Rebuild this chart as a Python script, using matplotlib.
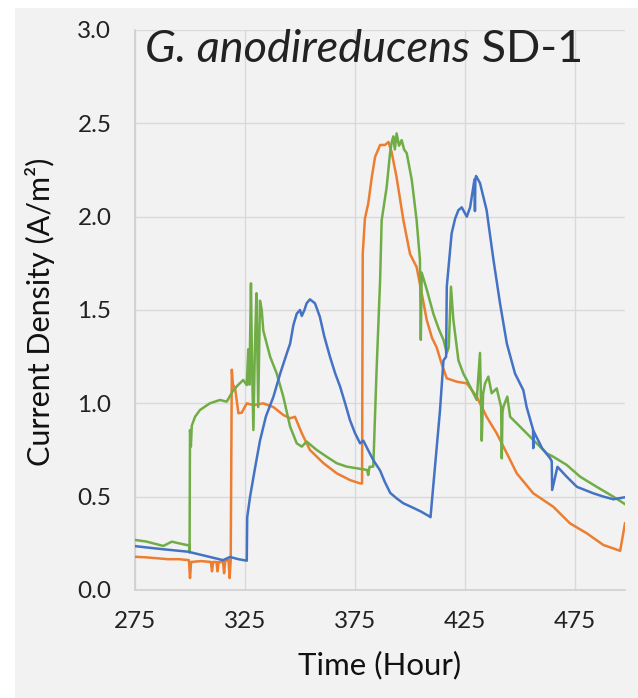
import matplotlib
matplotlib.use("Agg")
import matplotlib.pyplot as plt
from matplotlib.patches import Rectangle

plt.rcParams['font.family'] = ['Lato', 'DejaVu Sans']

# ---- data ----
blue_x = [275, 286.4, 299.2, 315, 318.2, 322, 325.8, 326.0, 327.3, 329.5, 331.8, 334.5, 337.9,
          341, 344, 345.5, 347, 348.5, 350, 350.8, 352, 353, 354.5, 356.8, 359, 361, 363.6,
          366, 368.2, 370.5, 372.7, 375, 377.3, 378.8, 380.5, 383.3, 386.4, 388.5, 391, 394,
          396.9, 401.5, 405, 409, 409.3, 413.6, 415.2, 416.4, 416.7, 418.9, 420.5, 422, 423.5,
          425.8, 427.3, 429.3, 429.5, 429.7, 430, 431.8, 434.8, 437.9, 440.9, 444, 447.7, 451.5,
          453, 455.9, 456.0, 456.2, 460, 463.6, 464.4, 464.6, 467, 471.2, 475.8, 483.3, 488,
          492.4, 497.7]
blue_y = [0.235, 0.22, 0.205, 0.16, 0.177, 0.165, 0.157, 0.39, 0.50, 0.65, 0.80, 0.93, 1.035,
          1.16, 1.268, 1.32, 1.42, 1.48, 1.50, 1.468, 1.50, 1.536, 1.557, 1.536, 1.464, 1.36, 1.25,
          1.16, 1.09, 1.0, 0.91, 0.84, 0.786, 0.80, 0.76, 0.696, 0.64, 0.58, 0.52, 0.49,
          0.465, 0.44, 0.42, 0.393, 0.39, 0.96, 1.23, 1.25, 1.625, 1.91, 1.99, 2.035, 2.05,
          2.0, 2.05, 2.20, 2.03, 2.20, 2.218, 2.18, 2.035, 1.77, 1.536, 1.32, 1.16, 1.07,
          0.98, 0.86, 0.76, 0.85, 0.76, 0.707, 0.69, 0.536, 0.66, 0.607, 0.553, 0.518, 0.50,
          0.486, 0.497]

orange_x = [275, 280, 285, 290, 295, 299.5, 300, 300.5, 305, 309.5, 310, 310.5, 312, 312.5,
            313, 315, 315.5, 316, 317.5, 318, 318.5, 319, 319.5, 320.5, 322, 323.5, 325.8,
            328.8, 333.3, 337.9, 342.4, 345.5, 347.7, 350.8, 354.5, 360.6, 366.7, 372.7, 377.3,
            378.2, 378.5, 379.5, 381, 382.6, 384.1, 386.4, 388.6, 390.2, 391.6, 393.9, 397, 400,
            403, 405.3, 407.6, 410, 412.1, 414.4, 416.7, 421.2, 425.8, 430.3, 434.8, 439.4, 444,
            448.5, 456, 465.1, 472.7, 480.3, 487.9, 495.5, 497.7]
orange_y = [0.178, 0.175, 0.17, 0.165, 0.165, 0.16, 0.064, 0.15, 0.155, 0.15, 0.10, 0.15, 0.15,
            0.10, 0.15, 0.15, 0.09, 0.155, 0.16, 0.064, 0.16, 1.18, 1.10, 1.08, 0.947, 0.95, 1.0,
            0.99, 1.0, 0.98, 0.9375, 0.92, 0.928, 0.84, 0.75, 0.68, 0.625, 0.589, 0.571,
            0.571, 1.80, 1.99, 2.07, 2.21, 2.32, 2.384, 2.384, 2.40, 2.348, 2.21, 1.98, 1.80,
            1.73, 1.59, 1.446, 1.35, 1.30, 1.21, 1.134, 1.116, 1.107, 1.036, 0.928, 0.839, 0.732,
            0.625, 0.518, 0.446, 0.357, 0.304, 0.241, 0.21, 0.357]

green_x = [275, 280, 287.9, 291.7, 295, 298.5, 299.6, 299.8, 300.0, 300.4, 300.8, 302.3, 304.5,
           309, 313.6, 316.7, 319.7, 322, 324.2, 325.8, 326.5, 327.0, 327.7, 328.2, 328.8, 329.5,
           330.2, 331.0, 331.8, 332.6, 333.3, 336.4, 339.4, 342.4, 345.5, 348.5, 350.8, 353,
           357.6, 362.1, 366.7, 371.2, 375.8, 380.5, 381, 381.6, 383.3, 384.8, 386.4, 387.1,
           389.4, 390.9, 391.7, 392.4, 393.1, 393.9, 395, 396.2, 397.3, 398.5, 400.8, 403, 404.5,
           404.9, 405.3, 407.6, 410.6, 413, 415.2, 416.7, 417.6, 418.6, 419.7, 422, 424.2, 425.8,
           427.3, 430.3, 431.8, 432.6, 433.2, 434.1, 435.6, 437.1, 439.4, 441.4, 441.7, 442.0,
           442.4, 444.2, 445.5, 450, 456, 462.1, 465.1, 471.2, 477.3, 484.8, 492.4, 497.7]
green_y = [0.268, 0.26, 0.236, 0.259, 0.25, 0.241, 0.24, 0.20, 0.857, 0.768, 0.88, 0.928, 0.964,
           1.0, 1.018, 1.009, 1.071, 1.10, 1.125, 1.098, 1.29, 1.10, 1.643, 1.2, 0.857, 1.3,
           1.59, 0.98, 1.55, 1.5, 1.39, 1.25, 1.16, 1.036, 0.875, 0.786, 0.768, 0.795,
           0.75, 0.714, 0.679, 0.661, 0.652, 0.643, 0.616, 0.66, 0.661, 1.18, 1.66, 1.98,
           2.16, 2.34, 2.40, 2.43, 2.36, 2.446, 2.38, 2.41, 2.36, 2.34, 2.196, 1.98, 1.77,
           1.34, 1.70, 1.61, 1.48, 1.40, 1.34, 1.27, 1.30, 1.625, 1.446, 1.23, 1.16, 1.125,
           1.09, 1.018, 1.27, 0.80, 1.05, 1.107, 1.143, 1.054, 1.08, 0.98, 0.705, 0.95,
           0.98, 1.036, 0.928, 0.875, 0.804, 0.732, 0.714, 0.67, 0.607, 0.553, 0.5, 0.46]

x_ticks = [275, 325, 375, 425, 475]
y_ticks = [0.0, 0.5, 1.0, 1.5, 2.0, 2.5, 3.0]

# ---- figure ----
W, H = 638, 698
fig = plt.figure(figsize=(W / 100, H / 100), dpi=100)
fig.patch.set_facecolor('white')
fig.add_artist(Rectangle((15 / W, 0), 1 - 15 / W, 1 - 8 / H, transform=fig.transFigure,
                         facecolor='#f2f2f2', edgecolor='none', zorder=0))

ax = fig.add_axes([135 / W, 1 - 590 / H, 490 / W, 560 / H])
ax.set_facecolor('#f2f2f2')

ax.plot(orange_x, orange_y, color='#ED7D31', lw=1.8, zorder=3)
ax.plot(green_x, green_y, color='#70AD47', lw=1.8, zorder=4)
ax.plot(blue_x, blue_y, color='#4472C4', lw=1.8, zorder=5)

ax.set_xlim(275, 497.7)
ax.set_ylim(0, 3.0)
ax.set_xticks(x_ticks)
ax.set_yticks(y_ticks)
ax.set_xticklabels([str(t) for t in x_ticks])
ax.set_yticklabels([f"{t:.1f}" for t in y_ticks])
ax.grid(True, color='#d9d9d9', lw=1.0, zorder=1)
ax.set_axisbelow(True)
for s in ['top', 'right']:
    ax.spines[s].set_visible(False)
for s in ['left', 'bottom']:
    ax.spines[s].set_color('#d0d0d0')
    ax.spines[s].set_linewidth(1.2)
ax.tick_params(axis='both', length=0, labelsize=17.5, colors='#222222')
ax.tick_params(axis='y', pad=17)
ax.tick_params(axis='x', pad=15)

fig.text(380 / W, 1 - 665 / H, 'Time (Hour)', ha='center', va='center', fontsize=22.5,
         color='#111111')
fig.text(40 / W, 1 - 312 / H, 'Current Density (A/m²)', ha='center', va='center',
         rotation=90, fontsize=22, color='#111111')

t1 = ax.text(279.5, 2.83, 'G. anodireducens', style='italic', fontsize=32.5,
             color='#222222', va='baseline', ha='left', zorder=6)
fig.canvas.draw()
bb = t1.get_window_extent(renderer=fig.canvas.get_renderer())
x_end = ax.transData.inverted().transform((bb.x1, 0))[0]
ax.text(x_end, 2.83, ' SD-1', fontsize=32.5, color='#222222', va='baseline', ha='left', zorder=6)

fig.savefig('out.png', dpi=100, facecolor=fig.get_facecolor())
